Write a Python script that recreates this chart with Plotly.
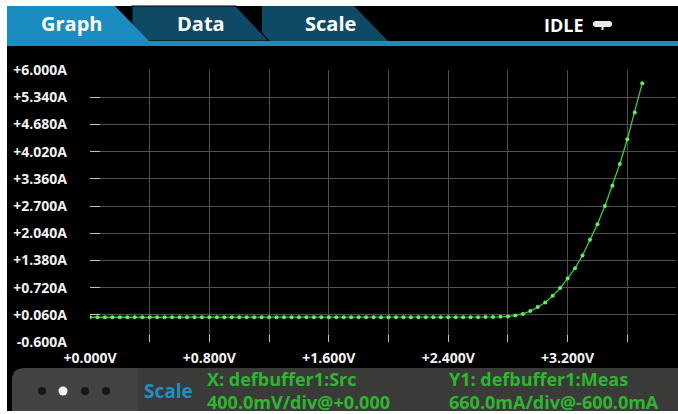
import plotly.graph_objects as go

# ---------------- data ----------------
voltage = [0.00, 0.05, 0.10, 0.15, 0.20, 0.25, 0.30, 0.35, 0.40, 0.45,
           0.50, 0.55, 0.60, 0.65, 0.70, 0.75, 0.80, 0.85, 0.90, 0.95,
           1.00, 1.05, 1.10, 1.15, 1.20, 1.25, 1.30, 1.35, 1.40, 1.45,
           1.50, 1.55, 1.60, 1.65, 1.70, 1.75, 1.80, 1.85, 1.90, 1.95,
           2.00, 2.05, 2.10, 2.15, 2.20, 2.25, 2.30, 2.35, 2.40, 2.45,
           2.50, 2.55, 2.60, 2.65, 2.70, 2.75, 2.80, 2.85, 2.90, 2.95,
           3.00, 3.05, 3.10, 3.15, 3.20, 3.25, 3.30, 3.35, 3.40, 3.45,
           3.50, 3.55, 3.60, 3.65, 3.70]
current = [0.0, 0.0, 0.0, 0.0, 0.0, 0.0, 0.0, 0.0, 0.0, 0.0,
           0.0, 0.0, 0.0, 0.0, 0.0, 0.0, 0.0, 0.0, 0.0, 0.0,
           0.0, 0.0, 0.0, 0.0, 0.0, 0.0, 0.0, 0.0, 0.0, 0.0,
           0.0, 0.0, 0.0, 0.0, 0.0, 0.0, 0.0, 0.0, 0.0, 0.0,
           0.0, 0.0, 0.0, 0.0, 0.0, 0.0, 0.0, 0.0, 0.0, 0.001,
           0.001, 0.002, 0.003, 0.005, 0.008, 0.012, 0.02, 0.04, 0.08, 0.15,
           0.25, 0.36, 0.52, 0.71, 0.94, 1.19, 1.50, 1.88, 2.26, 2.70,
           3.19, 3.72, 4.32, 4.97, 5.68]

x_tickvals = [0.0, 0.4, 0.8, 1.2, 1.6, 2.0, 2.4, 2.8, 3.2, 3.6]
x_ticktext = ["+0.000V", "", "+0.800V", "", "+1.600V", "", "+2.400V", "", "+3.200V", ""]
y_tickvals = [-0.60, 0.06, 0.72, 1.38, 2.04, 2.70, 3.36, 4.02, 4.68, 5.34, 6.00]
y_ticktext = ["-0.600A", "+0.060A", "+0.720A", "+1.380A", "+2.040A", "+2.700A",
              "+3.360A", "+4.020A", "+4.680A", "+5.340A", "+6.000A"]

tab_labels = ["Graph", "Data", "Scale"]
status_text = "IDLE"
scale_title = "Scale"
x_info = ["X: defbuffer1:Src", "400.0mV/div@+0.000"]
y_info = ["Y1: defbuffer1:Meas", "660.0mA/div@-600.0mA"]

# ---------------- geometry helpers (pixel -> paper) ----------------
W_PX, H_PX = 678, 414
L, R, T, B = 90, 676, 70, 342
PW, PH = R - L, B - T


def px(x):
    return (x - L) / PW


def py(y):
    return (B - y) / PH


def rect(x0, y0, x1, y1, color, layer="below", line=None):
    return dict(type="rect", xref="paper", yref="paper",
                x0=px(x0), x1=px(x1), y0=py(y1), y1=py(y0),
                fillcolor=color, line=line or dict(width=0), layer=layer)


def path(points, color, layer="below", line=None):
    d = "M " + " L ".join(f"{px(a):.5f},{py(b):.5f}" for a, b in points) + " Z"
    return dict(type="path", xref="paper", yref="paper", path=d,
                fillcolor=color, line=line or dict(width=0), layer=layer)


def circle(cx, cy, r, color):
    return dict(type="circle", xref="paper", yref="paper",
                x0=px(cx - r), x1=px(cx + r), y0=py(cy + r), y1=py(cy - r),
                fillcolor=color, line=dict(width=0), layer="above")


def text(s, x, y, size, color, xanchor="center", bold=True):
    return dict(text=s, xref="paper", yref="paper", x=px(x), y=py(y),
                xanchor=xanchor, yanchor="middle", showarrow=False, align="left",
                font=dict(family="Open Sans", size=size, color=color,
                          weight="bold" if bold else "normal"))


FONT = "Open Sans"
GREEN_TXT = "#2fb52f"
BLUE = "#1a8cbf"

fig = go.Figure()
fig.add_trace(go.Scatter(
    x=voltage, y=current, mode="lines+markers",
    line=dict(color="#3cc83c", width=1.3),
    marker=dict(color="#5ef05e", size=4),
    hoverinfo="skip", showlegend=False))

shapes = []
# screen background (white frame around)
shapes.append(rect(7, 6, 678, 411, "#000000"))
# tabs
shapes.append(path([(262, 6), (354, 6), (388, 41), (262, 41)], "#0e4a66"))
shapes.append(path([(132, 6), (236, 6), (269, 41), (132, 41)], "#0e4a66",
                   line=dict(color="#000000", width=1.2)))
shapes.append(path([(7, 6), (115, 6), (149, 41), (7, 41)], BLUE))
# blue strip under tabs
shapes.append(rect(7, 41, 678, 46, BLUE))
# idle pill icon
shapes.append(path([(595, 21), (610, 21), (612, 22.5), (612, 25.5), (610, 27),
                    (595, 27), (593, 25.5), (593, 22.5)], "#e8e8e8", layer="above"))
shapes.append(rect(601.5, 27, 603.5, 30, "#e8e8e8", layer="above"))
# bottom panel
shapes.append(rect(138, 368, 678, 411, "#3a3a39"))
shapes.append(path([(12, 411), (12, 378), (14, 372), (18, 369), (24, 368),
                    (138, 368), (138, 411)], "#434343"))
# page dots
shapes.append(circle(42, 391, 4, "#161616"))
shapes.append(circle(63, 391, 4.5, "#f4f4f4"))
shapes.append(circle(85, 391, 4, "#161616"))
shapes.append(circle(106, 391, 4, "#161616"))

annotations = [
    text(tab_labels[0], 71, 24, 20, "#ffffff"),
    text(tab_labels[1], 201, 24, 20, "#ffffff"),
    text(tab_labels[2], 330, 24, 20, "#ffffff"),
    text(status_text, 564, 25, 18, "#ffffff"),
    text(scale_title, 168, 391, 19, "#1f8fc4"),
    text("<br>".join(x_info), 205, 390, 18, GREEN_TXT, xanchor="left"),
    text("<br>".join(y_info), 447, 390, 18, GREEN_TXT, xanchor="left"),
]

tickfont = dict(family=FONT, size=14, color="#f2f2f2", weight="bold")

fig.update_layout(
    width=W_PX, height=H_PX,
    margin=dict(l=L, r=W_PX - R, t=T, b=H_PX - B, autoexpand=False),
    paper_bgcolor="#ffffff", plot_bgcolor="#000000",
    shapes=shapes, annotations=annotations,
    xaxis=dict(range=[0, 0.4 * PW / 59.7], tickvals=x_tickvals, ticktext=x_ticktext,
               showgrid=True, gridcolor="#505050", gridwidth=1, zeroline=False,
               ticks="inside", ticklen=7, tickcolor="#c0c0c0", tickwidth=1,
               tickfont=tickfont, ticklabelstandoff=6, showline=False,
               fixedrange=True),
    yaxis=dict(range=[-0.6, 6.0], tickvals=y_tickvals, ticktext=y_ticktext,
               showgrid=True, gridcolor="#505050", gridwidth=1, zeroline=False,
               ticks="inside", ticklen=10, tickcolor="#c0c0c0", tickwidth=1,
               tickfont=tickfont, ticklabelstandoff=22, showline=False,
               fixedrange=True),
)

fig.write_html("out.html",
               config={"displayModeBar": False, "staticPlot": True},
               post_script="document.body.style.margin='0px';"
                           "document.body.style.overflow='hidden';")
